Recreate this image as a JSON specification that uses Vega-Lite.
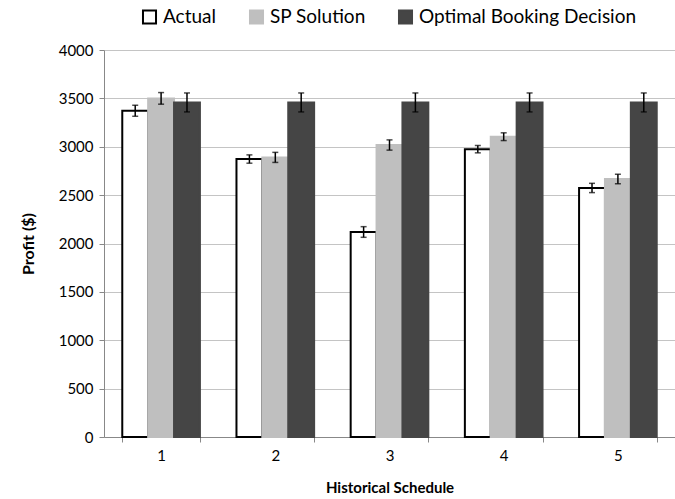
{
  "$schema": "https://vega.github.io/schema/vega-lite/v6.json",
  "width": 571,
  "height": 387,
  "autosize": {"type": "none"},
  "padding": {"left": 104, "top": 50, "right": 0, "bottom": 62},
  "background": "white",
  "config": {
    "font": "Lato",
    "view": {"stroke": null},
    "axis": {"labelFont": "Lato", "titleFont": "Lato", "labelColor": "#000", "titleColor": "#000"}
  },
  "data": {
    "values": [
      {"schedule": "1", "series": "Actual", "profit": 3372, "lo": 3315, "hi": 3429},
      {"schedule": "1", "series": "SP Solution", "profit": 3500, "lo": 3440, "hi": 3560},
      {"schedule": "1", "series": "Optimal Booking Decision", "profit": 3458, "lo": 3360, "hi": 3556},
      {"schedule": "2", "series": "Actual", "profit": 2873, "lo": 2830, "hi": 2916},
      {"schedule": "2", "series": "SP Solution", "profit": 2890, "lo": 2838, "hi": 2942},
      {"schedule": "2", "series": "Optimal Booking Decision", "profit": 3458, "lo": 3360, "hi": 3556},
      {"schedule": "3", "series": "Actual", "profit": 2119, "lo": 2064, "hi": 2174},
      {"schedule": "3", "series": "SP Solution", "profit": 3018, "lo": 2965, "hi": 3071},
      {"schedule": "3", "series": "Optimal Booking Decision", "profit": 3458, "lo": 3360, "hi": 3556},
      {"schedule": "4", "series": "Actual", "profit": 2975, "lo": 2937, "hi": 3013},
      {"schedule": "4", "series": "SP Solution", "profit": 3104, "lo": 3064, "hi": 3144},
      {"schedule": "4", "series": "Optimal Booking Decision", "profit": 3458, "lo": 3360, "hi": 3556},
      {"schedule": "5", "series": "Actual", "profit": 2574, "lo": 2526, "hi": 2622},
      {"schedule": "5", "series": "SP Solution", "profit": 2667, "lo": 2617, "hi": 2717},
      {"schedule": "5", "series": "Optimal Booking Decision", "profit": 3458, "lo": 3360, "hi": 3556}
    ]
  },
  "encoding": {
    "x": {
      "field": "schedule", "type": "nominal",
      "scale": {"paddingInner": 0.32, "paddingOuter": 0.16},
      "axis": {
        "title": "Historical Schedule", "titleFontSize": 15, "titleFontWeight": "bold", "titlePadding": 17,
        "labelAngle": 0, "labelFontSize": 15, "labelPadding": 6,
        "tickBand": "extent", "tickSize": 5, "tickColor": "#888", "domainColor": "#888"
      }
    },
    "xOffset": {"field": "series", "type": "nominal", "sort": ["Actual", "SP Solution", "Optimal Booking Decision"]}
  },
  "layer": [
    {
      "mark": {"type": "bar", "strokeWidth": 2},
      "encoding": {
        "y": {
          "field": "profit", "type": "quantitative",
          "scale": {"domain": [0, 4000]},
          "axis": {
            "title": "Profit ($)", "titleFontSize": 16, "titleFontWeight": "bold", "titlePadding": 22,
            "values": [0, 500, 1000, 1500, 2000, 2500, 3000, 3500, 4000], "format": "d",
            "labelFontSize": 15, "labelPadding": 6,
            "tickSize": 5, "tickColor": "#888", "domainColor": "#888",
            "gridColor": "#c4c4c4", "gridWidth": 1.2
          }
        },
        "fill": {
          "field": "series", "type": "nominal",
          "sort": ["Actual", "SP Solution", "Optimal Booking Decision"],
          "scale": {"domain": ["Actual", "SP Solution", "Optimal Booking Decision"], "range": ["#ffffff", "#bfbfbf", "#454545"]},
          "legend": {
            "title": null, "orient": "none", "direction": "horizontal",
            "legendX": 36, "legendY": -43, "labelLimit": 0,
            "symbolType": "square", "symbolSize": 170, "symbolStrokeWidth": 2,
            "labelFontSize": 19, "labelFont": "Lato", "labelColor": "#000", "columnPadding": 28, "labelOffset": 4
          }
        },
        "stroke": {
          "field": "series", "type": "nominal",
          "sort": ["Actual", "SP Solution", "Optimal Booking Decision"],
          "scale": {"domain": ["Actual", "SP Solution", "Optimal Booking Decision"], "range": ["#000000", "#bfbfbf", "#454545"]},
          "legend": {
            "title": null, "orient": "none", "direction": "horizontal",
            "legendX": 36, "legendY": -43, "labelLimit": 0,
            "symbolType": "square", "symbolSize": 170, "symbolStrokeWidth": 2,
            "labelFontSize": 19, "labelFont": "Lato", "labelColor": "#000", "columnPadding": 28, "labelOffset": 4
          }
        }
      }
    },
    {
      "mark": {"type": "rule", "color": "#000", "strokeWidth": 1.5},
      "encoding": {
        "y": {"field": "lo", "type": "quantitative"},
        "y2": {"field": "hi"}
      }
    },
    {
      "mark": {"type": "tick", "color": "#000", "size": 6, "thickness": 1.5, "orient": "horizontal"},
      "encoding": {"y": {"field": "lo", "type": "quantitative"}}
    },
    {
      "mark": {"type": "tick", "color": "#000", "size": 6, "thickness": 1.5, "orient": "horizontal"},
      "encoding": {"y": {"field": "hi", "type": "quantitative"}}
    }
  ]
}
